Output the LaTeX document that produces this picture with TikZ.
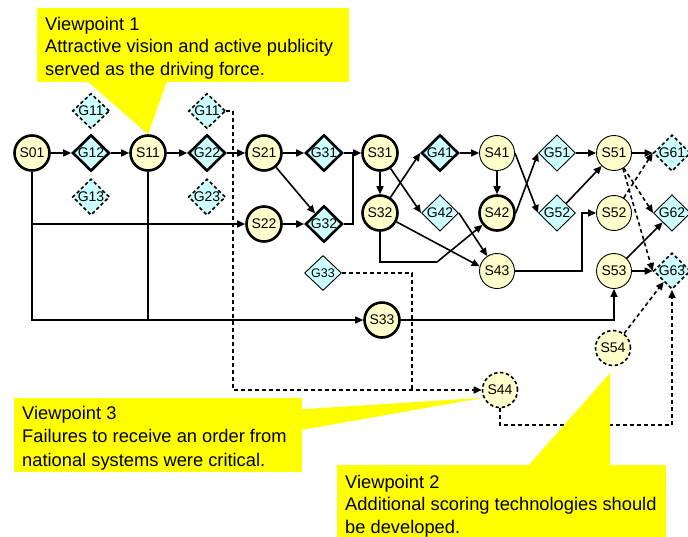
\documentclass[tikz,border=0pt]{standalone}
\usepackage{fontspec}
\setmainfont{Liberation Sans}
\usetikzlibrary{shapes.geometric,arrows.meta}
\definecolor{statefill}{HTML}{FFFFCC}
\definecolor{goalfill}{HTML}{CCFFFF}
\definecolor{notefill}{HTML}{FFFF00}
\begin{document}
\begin{tikzpicture}[x=1pt,y=-1pt,
  every node/.style={font=\fontsize{14}{16}\selectfont},
  stnode/.style={circle, draw, fill=statefill, minimum size=35pt, inner sep=0pt, line width=0.9pt},
  glnode/.style={diamond, draw, fill=goalfill, minimum width=37pt, minimum height=35pt, inner sep=0pt, line width=0.9pt},
  bold/.style={line width=2.6pt},
  dshape/.style={line width=1.6pt, dash pattern=on 3.5pt off 2.5pt},
  link/.style={line width=1.6pt},
  conn/.style={link, -{Triangle[length=8pt,width=7pt]}},
  dlink/.style={link, dash pattern=on 4pt off 3pt},
  dconn/.style={dlink, -{Triangle[length=8pt,width=7pt]}},
  note/.style={fill=notefill, draw=none},
  notetext/.style={anchor=north west, inner sep=0pt, align=left},
]
\useasboundingbox (0,0) rectangle (688,536);

% stages and goals
\node[stnode,bold] (S01) at (32,153) {S01};
\node[glnode,bold] (G12) at (91,153) {G12};
\node[glnode,dshape] (G11a) at (91,111) {G11};
\node[glnode,dshape] (G13) at (91,197) {G13};
\node[stnode,bold] (S11) at (148,153) {S11};
\node[glnode,bold] (G22) at (207,153) {G22};
\node[glnode,dshape] (G11b) at (207,111) {G11};
\node[glnode,dshape] (G23) at (207,197) {G23};
\node[stnode,bold] (S21) at (264,153) {S21};
\node[stnode,bold] (S22) at (264,224) {S22};
\node[glnode,bold] (G31) at (324,153) {G31};
\node[glnode,bold] (G32) at (324,224) {G32};
\node[stnode,bold] (S31) at (380,153) {S31};
\node[stnode,bold] (S32) at (380,213) {S32};
\node[glnode,bold] (G41) at (440,153) {G41};
\node[glnode] (G42) at (440,213) {G42};
\node[stnode] (S41) at (497,153) {S41};
\node[stnode,bold] (S42) at (497,213) {S42};
\node[stnode] (S43) at (497,271) {S43};
\node[glnode] (G51) at (557,153) {G51};
\node[glnode] (G52) at (557,213) {G52};
\node[stnode] (S51) at (614,153) {S51};
\node[stnode] (S52) at (614,213) {S52};
\node[stnode] (S53) at (614,271) {S53};
\node[glnode,dshape] (G61) at (672,153) {G61};
\node[glnode] (G62) at (672,213) {G62};
\node[glnode,dshape] (G63) at (672,271) {G63};
\node[glnode,font=\fontsize{12.5}{14}\selectfont] (G33) at (323,273) {G33};
\node[stnode,bold] (S33) at (382,320) {S33};
\node[stnode,dshape] (S54) at (613,348) {S54};
\node[stnode,dshape] (S44) at (500,390) {S44};

% solid connectors
\draw[conn] (S01) -- (G12);
\draw[conn] (G12) -- (S11);
\draw[conn] (S11) -- (G22);
\draw[conn] (G22) -- (S21);
\draw[conn] (S01) |- (S33);
\draw[conn] (S01 |- S22) -- (S22);
\draw[link] (S11) -- (S11 |- S33);
\draw[conn] (S21) -- (G31);
\draw[conn] (S21) -- (G32);
\draw[conn] (S22) -- (G32);
\coordinate (m1) at (353,153);
\draw[link] (G32.east) -| (m1);
\draw[conn] (G31) -- (S31);
\draw[conn] (S31) -- (S32);
\draw[conn] (S31) -- (G42.west);
\draw[conn] (S32) -- (G41.west);
\draw[conn] (G41) -- (S41);
\draw[conn] (S41) -- (S42);
\draw[conn] (S41.east) -- (G52.west);
\draw[conn] (S42.east) -- (G51.west);
\draw[conn] (G51) -- (S51);
\draw[conn] (G52) -- (S51);
\draw[conn] (S51) -- (G61);
\draw[conn] (G42.east) -- (S43);
\draw[conn] (S32) -- (S43.165);
\coordinate (m2) at (437,262);
\draw[conn] (S32) |- (m2) -- (S42);
\coordinate (m3) at (582,213);
\draw[conn] (S43) -| (m3) -- (S52);
\draw[conn] (S33) -| (S53);
\draw[conn] (S53) -- (G63);
\draw[conn] (S53) -- (G62);

% dashed connectors
\draw[dconn] (S52) -- (G61.west);
\draw[dconn] (S51) -- (G62.west);
\draw[dconn] (S51.-60) -- (G63.west);
\draw[dconn] (S54) -- (G63);
\coordinate (m4) at (672,425);
\draw[dconn] (S44) |- (m4) -- (G63);
\coordinate (m5) at (233,390);
\draw[dconn] (G11b.east) -| (m5) -- (S44);
\coordinate (m6) at (412,390);
\draw[dlink] (G33.east) -| (m6);

% callouts
\node[note, minimum width=312pt, minimum height=74pt, anchor=north west, inner sep=0pt] (vp1) at (37,8) {};
\fill[note] (87,81) -- (167,81) -- (S11.north) -- cycle;
\node[notetext, font=\fontsize{18.3}{22.5}\selectfont] (vp1t) at (45,17)
  {Viewpoint 1\\Attractive vision and active publicity\\served as the driving force.};

\node[note, minimum width=288pt, minimum height=74pt, anchor=north west, inner sep=0pt] (vp3) at (14,398) {};
\fill[note] (290,410) -- (S44.205) -- (290,432) -- cycle;
\node[notetext, font=\fontsize{18.3}{23.5}\selectfont] (vp3t) at (22,406)
  {Viewpoint 3\\Failures to receive an order from\\national systems were critical.};

\node[note, minimum width=329pt, minimum height=72pt, anchor=north west, inner sep=0pt] (vp2) at (337,465) {};
\coordinate (vp2tip) at (610,373);
\fill[note] (528,466) -- (610,466) -- (vp2tip) -- cycle;
\node[notetext, font=\fontsize{18.3}{22.5}\selectfont] (vp2t) at (345,475)
  {Viewpoint 2\\Additional scoring technologies should\\be developed.};
\end{tikzpicture}
\end{document}
